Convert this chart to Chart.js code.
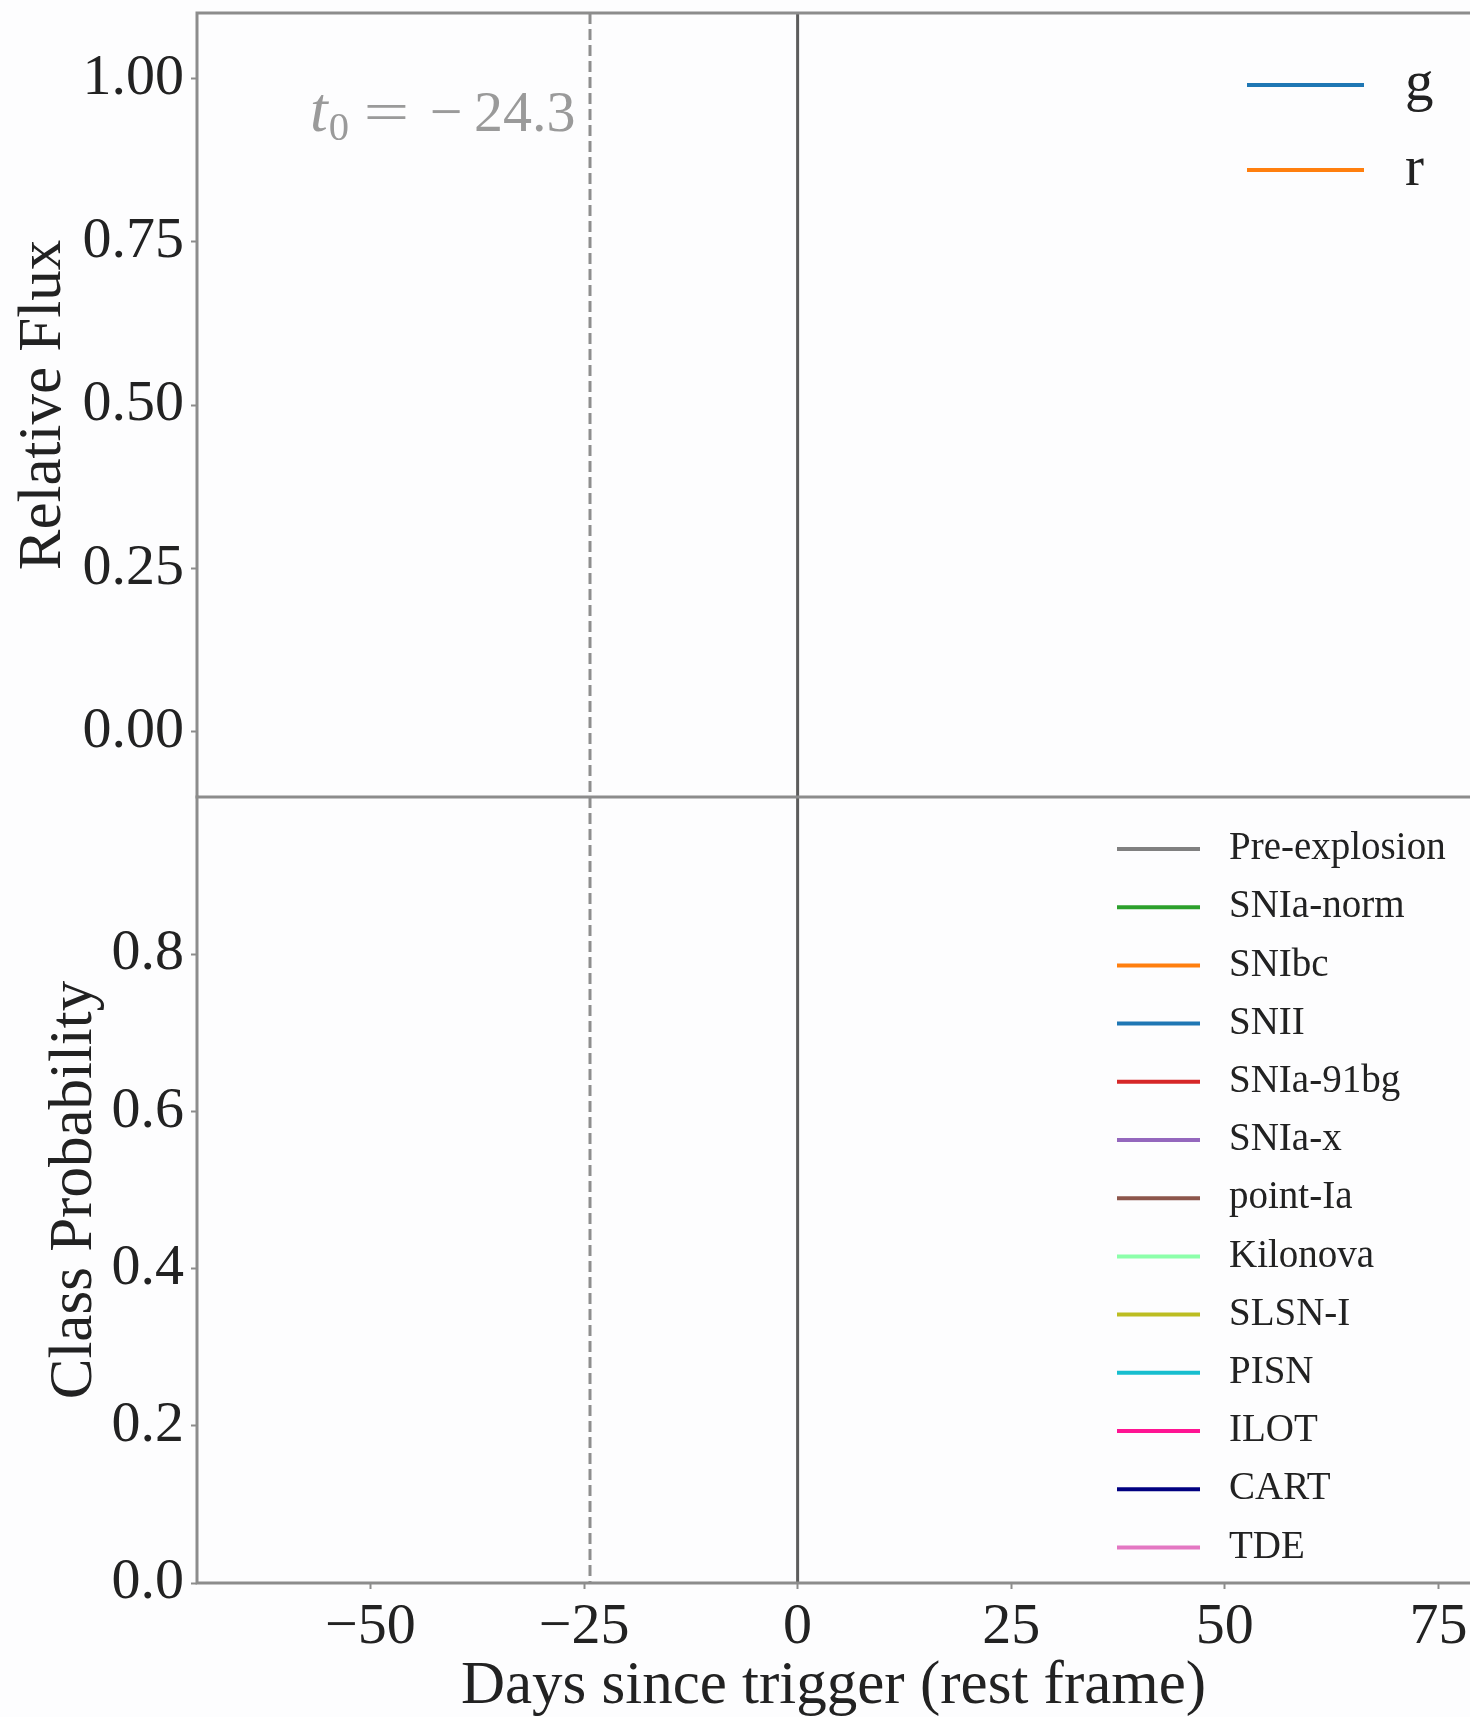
<!DOCTYPE html>
<html>
<head>
<meta charset="utf-8">
<script src="https://cdn.jsdelivr.net/npm/chart.js@4.4.1/dist/chart.umd.min.js"></script>
<style>
  html, body { margin: 0; padding: 0; background: #fdfdfe; overflow: hidden; width: 1470px; height: 1717px; }
  canvas { position: absolute; left: 0; }
  #flux { top: 0; }
  #prob { top: 790px; }
</style>
</head>
<body>
<canvas id="prob" width="1470" height="927"></canvas>
<canvas id="flux" width="1470" height="800"></canvas>
<script>
// ---- data -------------------------------------------------------------
const t0 = -24.3;            // fitted explosion epoch (days)
const triggerDay = 0;        // trigger epoch
const dayRange = [-70.3, 78.7];
const xTickValues = [-50, -25, 0, 25, 50, 75];
const fluxRange = [-0.1, 1.1];
const fluxTickValues = [0, 0.25, 0.5, 0.75, 1.0];
const probRange = [0, 1];
const probTickValues = [0, 0.2, 0.4, 0.6, 0.8];

// light curve so far: no observations yet
const bandNames = ['g', 'r'];
const bandColors = ['#1f77b4', '#ff7f0e'];
const gDays = [], gFlux = [];
const rDays = [], rFlux = [];

// classifier output so far: no epochs yet
const classNames = ['Pre-explosion', 'SNIa-norm', 'SNIbc', 'SNII', 'SNIa-91bg', 'SNIa-x',
  'point-Ia', 'Kilonova', 'SLSN-I', 'PISN', 'ILOT', 'CART', 'TDE'];
const classColors = ['#808080', '#2ca02c', '#ff7f0e', '#1f77b4', '#d62728', '#9467bd',
  '#8c564b', '#8cffaa', '#bcbd22', '#17becf', '#ff1493', '#000080', '#e377c2'];
const probDays = [];
const classProbs = [[], [], [], [], [], [], [], [], [], [], [], [], []];

// ---- styling ----------------------------------------------------------
const SERIF = "'Liberation Serif', 'DejaVu Serif', serif";
const TEXT = '#222';
const SPINE = '#8c8c8c';
const minusSign = s => String(s).replace('-', '\u2212');
const toPoints = (xs, ys) => xs.map((x, i) => ({ x, y: ys[i] }));
const noLabelPadding = s => { s.paddingTop = 0; s.paddingBottom = 0; s.paddingLeft = 0; s.paddingRight = 0; };

// spines drawn around the plotting area
const spines = {
  id: 'spines',
  afterDraw(chart, args, opts) {
    const { ctx, chartArea: a } = chart;
    ctx.save();
    ctx.strokeStyle = SPINE;
    ctx.lineWidth = 3;
    ctx.lineCap = 'square';
    ctx.beginPath();
    (opts.sides || []).forEach(side => {
      if (side === 'left') { ctx.moveTo(a.left, a.top); ctx.lineTo(a.left, a.bottom); }
      if (side === 'top') { ctx.moveTo(a.left, a.top); ctx.lineTo(a.right + 5, a.top); }
      if (side === 'bottom') { ctx.moveTo(a.left, a.bottom); ctx.lineTo(a.right + 5, a.bottom); }
    });
    ctx.stroke();
    ctx.restore();
  }
};

// explosion epoch (dashed) and trigger (solid) markers
const epochLines = {
  id: 'epochLines',
  beforeDatasetsDraw(chart) {
    const { ctx, chartArea: a, scales: { x } } = chart;
    ctx.save();
    ctx.lineWidth = 3;
    const xt = x.getPixelForValue(t0);
    ctx.strokeStyle = '#8e8e8e';
    ctx.setLineDash([11, 5]);
    ctx.beginPath(); ctx.moveTo(xt, a.top); ctx.lineTo(xt, a.bottom); ctx.stroke();
    const x0 = x.getPixelForValue(triggerDay);
    ctx.strokeStyle = '#5c5c5c';
    ctx.setLineDash([]);
    ctx.beginPath(); ctx.moveTo(x0, a.top); ctx.lineTo(x0, a.bottom); ctx.stroke();
    ctx.restore();
  }
};

// t0 annotation typeset piece by piece: t (italic), subscript 0, "=", minus, value
const t0Label = {
  id: 't0Label',
  afterDatasetsDraw(chart, args, opts) {
    if (!opts.show) return;
    const { ctx, scales: { x, y } } = chart;
    const s = 58;
    const value = Math.abs(t0).toFixed(1);
    const sign = t0 < 0 ? '\u2212' : '';
    ctx.save();
    ctx.fillStyle = '#9a9a9a';
    ctx.textBaseline = 'alphabetic';
    ctx.textAlign = 'right';
    const base = y.getPixelForValue(0.95) + s * 0.34;
    let r = x.getPixelForValue(t0 - 1.7);
    ctx.font = `${s}px ${SERIF}`;
    ctx.fillText(value, r, base);
    r -= ctx.measureText(value).width + s * 0.2;
    ctx.fillText(sign, r, base);
    r -= ctx.measureText(sign).width + s * 0.35;
    // wide relation sign
    const eqScale = 1.4;
    ctx.save();
    ctx.translate(r, base);
    ctx.scale(eqScale, 1);
    ctx.fillText('=', 0, 0);
    ctx.restore();
    r -= ctx.measureText('=').width * eqScale + s * 0.25;
    ctx.font = `${s * 0.7}px ${SERIF}`;
    ctx.fillText('0', r, base + s * 0.16);
    r -= ctx.measureText('0').width + s * 0.02;
    ctx.font = `italic ${s * 1.1}px ${SERIF}`;
    ctx.fillText('t', r, base);
    ctx.restore();
  }
};

// legend drawn inside the axes, built from the datasets
const inlineLegend = {
  id: 'inlineLegend',
  afterDraw(chart, args, opts) {
    const { ctx, chartArea: a } = chart;
    ctx.save();
    ctx.font = `${opts.size}px ${SERIF}`;
    ctx.textBaseline = 'middle';
    ctx.textAlign = 'left';
    chart.data.datasets.forEach((ds, i) => {
      const yy = a.top + opts.top + i * opts.rowGap;
      const xx = a.left + opts.left;
      ctx.strokeStyle = ds.borderColor;
      ctx.lineWidth = opts.lineWidth;
      ctx.beginPath(); ctx.moveTo(xx, yy); ctx.lineTo(xx + opts.handle, yy); ctx.stroke();
      ctx.fillStyle = TEXT;
      ctx.fillText(ds.label, xx + opts.handle + opts.gap, yy);
    });
    ctx.restore();
  }
};

const tickFont = { family: SERIF, size: 58 };
const titleFont = { family: SERIF, size: 61, lineHeight: 1.2 };
const tickGrid = { display: true, drawOnChartArea: false, drawTicks: true, tickLength: 6, tickColor: SPINE, tickWidth: 2 };

function yScale(range, ticks, decimals, title, titlePad) {
  return {
    type: 'linear', min: range[0], max: range[1],
    border: { display: false },
    grid: tickGrid,
    afterBuildTicks: s => { s.ticks = ticks.map(v => ({ value: v })); },
    afterFit: s => { s.width = 197; noLabelPadding(s); },
    ticks: { font: tickFont, color: TEXT, padding: 7, callback: v => minusSign(Number(v).toFixed(decimals)) },
    title: { display: true, text: title, font: titleFont, color: TEXT, padding: { top: titlePad, bottom: 0 } }
  };
}

Chart.defaults.animation = false;

// ---- top: light curve ------------------------------------------------
new Chart(document.getElementById('flux'), {
  type: 'line',
  data: {
    datasets: [
      { label: bandNames[0], data: toPoints(gDays, gFlux), borderColor: bandColors[0], backgroundColor: bandColors[0], pointRadius: 4, borderWidth: 3 },
      { label: bandNames[1], data: toPoints(rDays, rFlux), borderColor: bandColors[1], backgroundColor: bandColors[1], pointRadius: 4, borderWidth: 3 }
    ]
  },
  options: {
    responsive: false, devicePixelRatio: 1,
    layout: { autoPadding: false, padding: { left: 0, right: 0, top: 13, bottom: 3 } },
    plugins: {
      legend: { display: false }, tooltip: { enabled: false },
      spines: { sides: ['left', 'top', 'bottom'] },
      t0Label: { show: true },
      inlineLegend: { size: 57, top: 72, rowGap: 85, left: 1050, handle: 117, gap: 41, lineWidth: 4 }
    },
    scales: {
      x: { type: 'linear', min: dayRange[0], max: dayRange[1], display: false },
      y: yScale(fluxRange, fluxTickValues, 2, 'Relative Flux', 7)
    }
  },
  plugins: [spines, epochLines, t0Label, inlineLegend]
});

// ---- bottom: class probabilities --------------------------------------
new Chart(document.getElementById('prob'), {
  type: 'line',
  data: {
    datasets: classNames.map((name, i) => ({
      label: name, data: toPoints(probDays, classProbs[i]),
      borderColor: classColors[i], backgroundColor: classColors[i], pointRadius: 0, borderWidth: 3
    }))
  },
  options: {
    responsive: false, devicePixelRatio: 1,
    layout: { autoPadding: false, padding: { left: 0, right: 0, top: 7, bottom: 0 } },
    plugins: {
      legend: { display: false }, tooltip: { enabled: false },
      spines: { sides: ['left', 'bottom'] },
      inlineLegend: { size: 39, top: 52, rowGap: 58.2, left: 920, handle: 83, gap: 29, lineWidth: 4 }
    },
    scales: {
      x: {
        type: 'linear', min: dayRange[0], max: dayRange[1],
        border: { display: false },
        grid: tickGrid,
        afterBuildTicks: s => { s.ticks = xTickValues.map(v => ({ value: v })); },
        afterFit: s => { s.height = 134; noLabelPadding(s); },
        ticks: { font: tickFont, color: TEXT, padding: 4, maxRotation: 0, autoSkip: false, callback: v => minusSign(v) },
        title: { display: true, text: 'Days since trigger (rest frame)', font: { family: SERIF, size: 61, lineHeight: 1.0 }, color: TEXT, padding: { top: 0, bottom: 0 } }
      },
      y: yScale(probRange, probTickValues, 1, 'Class Probability', 38)
    }
  },
  plugins: [spines, epochLines, t0Label, inlineLegend]
});
</script>
</body>
</html>
